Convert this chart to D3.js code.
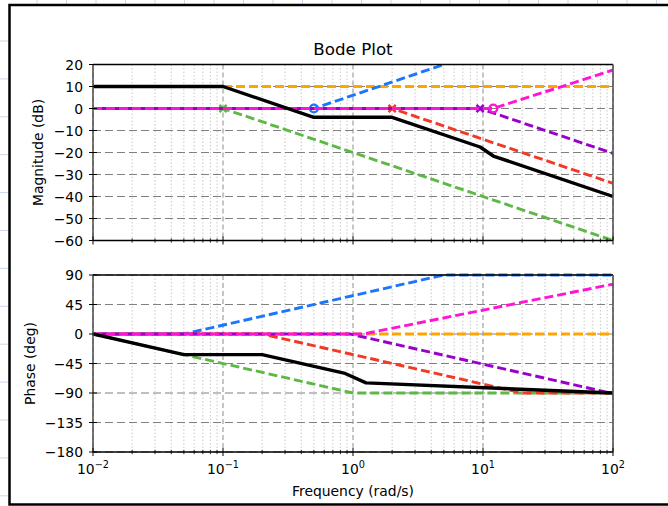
<!DOCTYPE html>
<html>
<head>
<meta charset="utf-8">
<script src="https://cdn.jsdelivr.net/npm/d3@7"></script>
<style>
  html, body { margin: 0; padding: 0; background: #fff; }
  svg { display: block; }
  text { font-family: "DejaVu Sans", sans-serif; fill: #000; }
</style>
</head>
<body>
<div id="chart"></div>
<script>
// Frequency axis (rad/s) and tick values
const freqDomain = [0.01, 100];
const decadeTicks = [0.01, 0.1, 1, 10, 100];
const decadeExponents = ["−2", "−1", "0", "1", "2"];
const magTicks = [20, 10, 0, -10, -20, -30, -40, -50, -60];
const phaseTicks = [90, 45, 0, -45, -90, -135, -180];

// Straight-line (asymptotic) approximations, as [frequency, value] breakpoints
const gainMag = [[0.01, 10], [100, 10]];
const gainPhase = [[0.01, 0], [100, 0]];

const pole01Mag = [[0.01, 0], [0.1, 0], [100, -60]];
const pole01Phase = [[0.01, 0], [1, -90], [100, -90]];

const zero05Mag = [[0.01, 0], [0.5, 0], [5, 20]];
const zero05Phase = [[0.01, 0], [0.05, 0], [5, 90], [100, 90]];

const pole2Mag = [[0.01, 0], [2, 0], [100, -34]];
const pole2Phase = [[0.01, 0], [0.2, 0], [20, -90], [100, -90]];

const pole95Mag = [[0.01, 0], [9.5, 0], [100, -20.4]];
const pole95Phase = [[0.01, 0], [0.95, 0], [95, -90], [100, -90]];

const zero12Mag = [[0.01, 0], [12, 0], [100, 17.5]];
const zero12Phase = [[0.01, 0], [1.2, 0], [100, 76]];

const totalMag = [[0.01, 10], [0.1, 10], [0.5, -4], [2, -4], [9.5, -17.5], [12, -21.6], [100, -40]];
const totalPhase = [[0.01, 0], [0.05, -31.5], [0.2, -31.5], [0.87, -60.2], [1.26, -74.5], [100, -90]];

// Corner-frequency markers on the magnitude plot
const cornerFreqs = [0.1, 0.5, 2, 9.5, 12];
const cornerKinds = ["x", "o", "x", "x", "o"];

// Drawing styles per curve
const curves = [
  { mag: gainMag,    phase: gainPhase,    color: "#FFA500", dash: "9,4", off: 0 },
  { mag: pole01Mag,  phase: pole01Phase,  color: "#5DB845", dash: "9,4", off: 2, marker: 0 },
  { mag: zero05Mag,  phase: zero05Phase,  color: "#1A75FF", dash: "9,4", off: 4, marker: 1 },
  { mag: pole2Mag,   phase: pole2Phase,   color: "#F03A26", dash: "9,4", off: 6, marker: 2 },
  { mag: pole95Mag,  phase: pole95Phase,  color: "#9A00CC", dash: "9,4", off: 8, marker: 3 },
  { mag: zero12Mag,  phase: zero12Phase,  color: "#FF14D6", dash: "9,4", off: 0, marker: 4 },
  { mag: totalMag,   phase: totalPhase,   color: "#000000", dash: null,  off: 0 }
];

const W = 668, H = 506;

const svg = d3.select("#chart").append("svg").attr("width", W).attr("height", H);

// Surrounding sheet backdrop and frame
const bg = svg.append("g");
for (let x = 37; x < W; x += 29.5) {
  bg.append("line").attr("x1", x).attr("x2", x).attr("y1", 0).attr("y2", 4)
    .attr("stroke", "#c9d7ec").attr("stroke-width", 1);
}
for (let y = 41; y < H; y += 37.9) {
  bg.append("line").attr("x1", 0).attr("x2", 8).attr("y1", y).attr("y2", y)
    .attr("stroke", "#c9d7ec").attr("stroke-width", 1);
}
bg.append("path").attr("d", `M${W},5 H9.5 V504.5 H${W}`)
  .attr("fill", "none").attr("stroke", "#000").attr("stroke-width", 2.5);

const x = d3.scaleLog().domain(freqDomain).range([93, 613]);
const yMag = d3.scaleLinear().domain([-60, 20]).range([240.5, 64.5]);
const yPh = d3.scaleLinear().domain([-180, 90]).range([452, 275]);

function label(g, tx, ty, str, anchor, size, rotate) {
  return g.append("text")
    .attr("transform", `translate(${tx},${ty})` + (rotate ? ` rotate(${rotate})` : ""))
    .attr("text-anchor", anchor)
    .style("font-size", size + "px")
    .text(str);
}

const minorFreqs = [];
for (let e = -2; e < 2; e++) {
  for (let k = 2; k <= 9; k++) minorFreqs.push(k * Math.pow(10, e));
}

function panel(y, ticks, key, ylabel, labelX, showX) {
  const g = svg.append("g");
  const [y0, y1] = y.range();
  const x0 = x.range()[0], x1 = x.range()[1];
  const clipId = "clip-" + key;
  svg.append("clipPath").attr("id", clipId).append("rect")
    .attr("x", x0).attr("y", y1 - 2).attr("width", x1 - x0).attr("height", y0 - y1 + 4);

  // grid
  g.selectAll(".minor").data(minorFreqs).join("line")
    .attr("x1", d => x(d)).attr("x2", d => x(d)).attr("y1", y1).attr("y2", y0)
    .attr("stroke", "#c8c8c8").attr("stroke-width", 1).attr("stroke-dasharray", "1.5,2");
  g.selectAll(".vmaj").data(decadeTicks).join("line")
    .attr("x1", d => x(d)).attr("x2", d => x(d)).attr("y1", y1).attr("y2", y0)
    .attr("stroke", "#a0a0a0").attr("stroke-width", 1.2).attr("stroke-dasharray", "5,3");
  g.selectAll(".hmaj").data(ticks).join("line")
    .attr("x1", x0).attr("x2", x1).attr("y1", d => y(d)).attr("y2", d => y(d))
    .attr("stroke", "#808080").attr("stroke-width", 1.2).attr("stroke-dasharray", "8,4");

  // curves
  const line = d3.line().x(d => x(d[0])).y(d => y(d[1]));
  const cg = svg.append("g").attr("clip-path", `url(#${clipId})`);
  curves.forEach(c => {
    const p = cg.append("path").datum(c[key]).attr("d", line)
      .attr("fill", "none").attr("stroke", c.color)
      .attr("stroke-width", c.dash ? 2.9 : 3.4)
      .attr("stroke-linejoin", "round");
    if (c.dash) p.attr("stroke-dasharray", c.dash).attr("stroke-dashoffset", c.off);
    if (key === "mag" && c.marker !== undefined) {
      const f = cornerFreqs[c.marker];
      const px = x(f), py = y(0);
      if (cornerKinds[c.marker] === "o") {
        cg.append("circle").attr("cx", px).attr("cy", py).attr("r", 3.9)
          .attr("fill", "none").attr("stroke", c.color).attr("stroke-width", 2.4);
      } else {
        const s = 3.6;
        cg.append("path").attr("d", `M${px - s},${py - s}L${px + s},${py + s}M${px - s},${py + s}L${px + s},${py - s}`)
          .attr("stroke", c.color).attr("stroke-width", 2.6).attr("fill", "none");
      }
    }
  });

  // spines
  const sp = svg.append("g");
  sp.append("line").attr("x1", x0).attr("x2", x1).attr("y1", y1).attr("y2", y1).attr("stroke", "#000").attr("stroke-width", 1.3);
  sp.append("line").attr("x1", x0).attr("x2", x1).attr("y1", y0).attr("y2", y0).attr("stroke", "#000").attr("stroke-width", 1.3);
  sp.append("line").attr("x1", x0).attr("x2", x0).attr("y1", y1).attr("y2", y0).attr("stroke", "#555").attr("stroke-width", 1.6);
  sp.append("line").attr("x1", x1).attr("x2", x1).attr("y1", y1).attr("y2", y0).attr("stroke", "#555").attr("stroke-width", 1.6);

  // ticks
  sp.selectAll(".yt").data(ticks).join("line")
    .attr("x1", x0 - 4).attr("x2", x0 + 4).attr("y1", d => y(d)).attr("y2", d => y(d))
    .attr("stroke", "#000").attr("stroke-width", 1);
  sp.selectAll(".xt").data(decadeTicks).join("line")
    .attr("x1", d => x(d)).attr("x2", d => x(d)).attr("y1", y0 - 4).attr("y2", y0 + 4)
    .attr("stroke", "#000").attr("stroke-width", 1);
  sp.selectAll(".xm").data(minorFreqs).join("line")
    .attr("x1", d => x(d)).attr("x2", d => x(d)).attr("y1", y0 - 2.2).attr("y2", y0 + 2.2)
    .attr("stroke", "#000").attr("stroke-width", 0.8);

  ticks.forEach(t => {
    label(sp, 83, y(t) + 5, t < 0 ? "−" + Math.abs(t) : String(t), "end", 13.9);
  });

  label(sp, labelX, (y0 + y1) / 2, ylabel, "middle", 13.9, -90);

  if (showX) {
    decadeTicks.forEach((t, i) => {
      const tx = sp.append("text")
        .attr("transform", `translate(${x(t)},${y0 + 22})`)
        .attr("text-anchor", "middle").style("font-size", "13.9px");
      tx.append("tspan").text("10");
      tx.append("tspan").attr("dy", -6.5).style("font-size", "9.7px").text(decadeExponents[i]);
    });
    label(sp, (x0 + x1) / 2, 496, "Frequency (rad/s)", "middle", 13.9);
  }
}

panel(yMag, magTicks, "mag", "Magnitude (dB)", 43, false);
panel(yPh, phaseTicks, "phase", "Phase (deg)", 35, true);

label(svg, 353, 55, "Bode Plot", "middle", 16.7);
</script>
</body>
</html>
